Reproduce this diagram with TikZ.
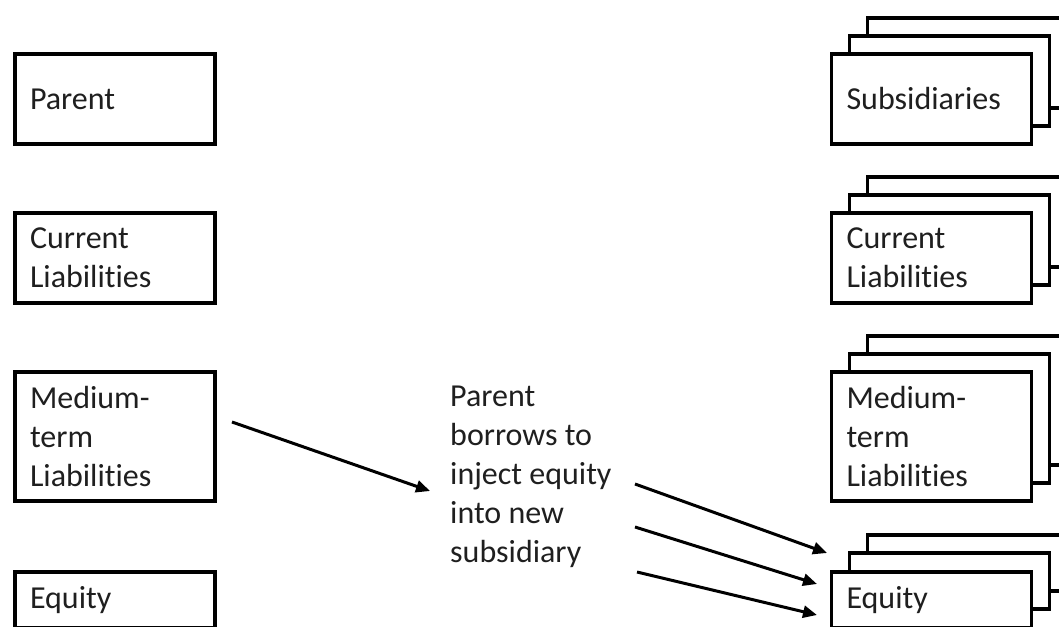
\documentclass[tikz,border=0pt]{standalone}
\usepackage{fontspec}
\setmainfont{Carlito}[Ligatures={NoCommon,NoContextual}]
\usetikzlibrary{arrows.meta, calc}

\begin{document}
\begin{tikzpicture}[x=1pt, y=-1pt,
  box/.style={rectangle, draw=black, line width=3.5pt, fill=white,
              minimum width=200pt, text width=170pt, inner xsep=15pt, align=left,
              font=\fontsize{32}{39}\selectfont, text=black!88},
  layer/.style={rectangle, draw=black, line width=3.5pt, fill=white, minimum width=200pt},
  arr/.style={-{Triangle[length=14pt, width=12pt]}, line width=3pt}
]
  \clip (0,0) rectangle (1059,626);

  % parent side
  \node[box, minimum height=90pt]  (par)  at (115,99)    {Parent};
  \node[box, minimum height=90pt]  (lcur) at (115,258)   {Current\\Liabilities};
  \node[box, minimum height=129pt] (lmed) at (115,436.5) {Medium-\\term\\Liabilities};
  \node[box, minimum height=56pt]  (leq)  at (115,600)   {Equity};

  % subsidiaries side (stacked)
  \node[layer, minimum height=90pt] (sub3) at (967.5,63) {};
  \node[layer, minimum height=90pt] (sub2) at (949.5,81) {};
  \node[box, minimum height=90pt]   (sub)  at (931.5,99) {Subsidiaries};

  \node[layer, minimum height=90pt] (rcur3) at (967.5,222) {};
  \node[layer, minimum height=90pt] (rcur2) at (949.5,240) {};
  \node[box, minimum height=90pt]   (rcur)  at (931.5,258) {Current\\Liabilities};

  \node[layer, minimum height=129pt] (rmed3) at (967.5,400.5) {};
  \node[layer, minimum height=129pt] (rmed2) at (949.5,418.5) {};
  \node[box, minimum height=129pt]   (rmed)  at (931.5,436.5) {Medium-\\term\\Liabilities};

  \node[layer, minimum height=56pt] (req3) at (967.5,563) {};
  \node[layer, minimum height=56pt] (req2) at (949.5,581) {};
  \node[box, minimum height=56pt]   (req)  at (931.5,600) {Equity};

  % middle note
  \node[font=\fontsize{32}{39}\selectfont, text=black!88, align=left, anchor=west, inner sep=0pt]
    (borrow) at (450,477) {Parent\\borrows to\\inject equity\\into new\\subsidiary};

  \coordinate (a0) at (232,422); \coordinate (a1) at (430,491);
  \coordinate (b0) at (635,484); \coordinate (b1) at (827,553);
  \coordinate (c0) at (635,527); \coordinate (c1) at (817,584);
  \coordinate (d0) at (637,572); \coordinate (d1) at (817,615);

  \draw[arr] (a0) -- (a1);
  \draw[arr] (b0) -- (b1);
  \draw[arr] (c0) -- (c1);
  \draw[arr] (d0) -- (d1);
\end{tikzpicture}
\end{document}
